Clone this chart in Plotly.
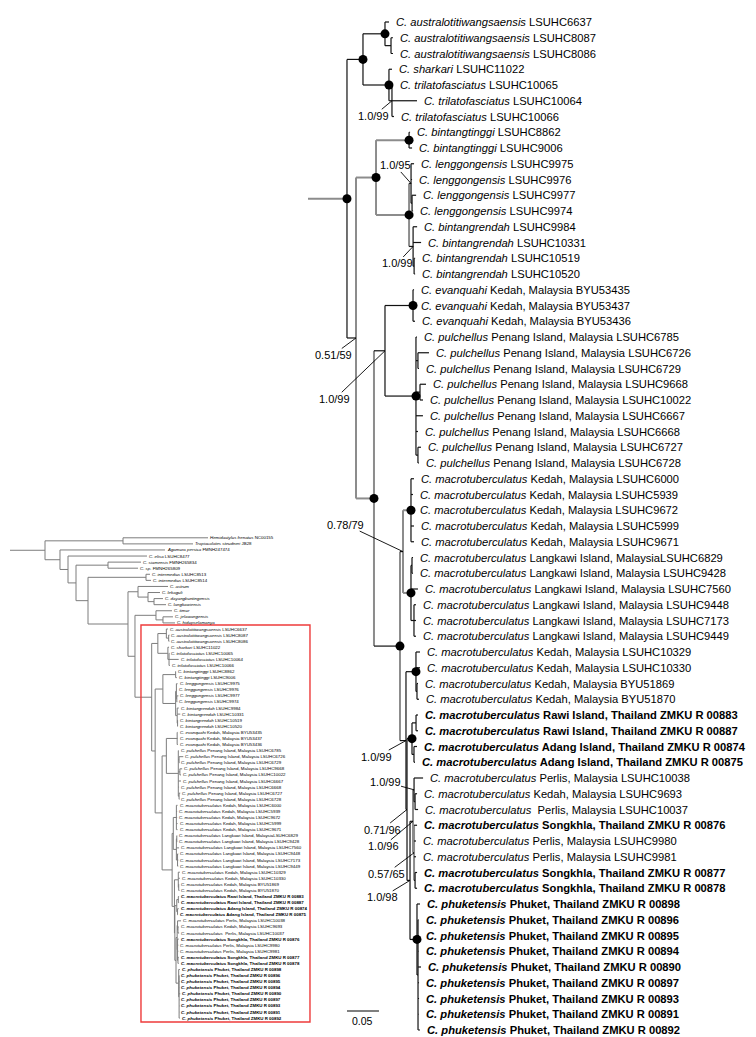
import plotly.graph_objects as go

# ---------------- data ----------------
# Ingroup tree (branch lengths in substitutions/site), internal nodes named
BIG_NEWICK = ("(((T01:0.0063,(T02:0.0031,T03:0.0031)AU2:0.0094)AU:0.0344,(T04:0.0047,(T05:0.0016,T06:0.0391,T07:0.0031)TR:0.0047)ST:0.0406)A:0.0250,"
              "(((T08:0.0016,T09:0.0047)BT:0.0516,((T10:0.0047,T11:0.0016,(T12:0.0063,T13:0.0016)LG2:0.0016)LG:0.0031,(T14:0.0063,T15:0.0125,(T16:0.0016,T17:0.0016)BR2:0.0016)BR:0.0063)LR:0.0516)C:0.0313,"
              "(((T18:0.0016,T19:0.0016,T20:0.0031)EV:0.0438,(T21:0.0016,(T22:0.0172,T23:0.0016)PU1:0.0031,(T24:0.0094,T25:0.0047)PU2:0.0063,T26:0.0109,T27:0.0031,(T28:0.0047,T29:0.0016)PU3:0.0031)PU:0.0484)E:0.0172,"
              "(((T30:0.0047,T31:0.0031,T32:0.0031,T33:0.0047,T34:0.0047)KD:0.0125,((T35:0.0016,T36:0.0016)LK1:0.0016,T37:0.0109,(T38:0.0031,T39:0.0031,T40:0.0031)LK2:0.0047)LK:0.0125)G:0.0047,"
              "((T41:0.0063,T42:0.0063,(T43:0.0016,T44:0.0031)K2:0.0016)K:0.0156,(((T45:0.0031,T46:0.0031)RW:0.0063,(T47:0.0047,T48:0.0016)AD:0.0031)RA:0.0078,"
              "(((T49:0.0141,(T50:0.0031,T51:0.0047)P1B:0.0016)P1:0.0016,(T52:0.0047,T53:0.0031,T54:0.0031,(T55:0.0031,T56:0.0031)SK:0.0016)N5:0.0016)N4:0.0047,"
              "(T57:0.0047,(T58:0.0008,T59:0.0016,T60:0.0008,T61:0.0047,T62:0.0016,T63:0.0016,T64:0.0008,T65:0.0031)PH2:0.0016)PH:0.0109)N3:0.0047)N2:0.0016)N1:0.0094)F:0.0406)D:0.0281)B:0.0141)ROOT:0.0609")

# Full tree with outgroups (inset); {ING} is the ingroup above
SMALL_NEWICK = ("((O00:0.3441,O01:0.2834)HT:0.3158,(O02:0.4251,(O03:0.3198,((O04:0.1336,O05:0.1215)SS:0.1296,((O06:0.0162,O07:0.0202)INT:0.2348,"
                "((O08:0.1215,(O09:0.0486,(O10:0.0364,O11:0.0486)AS3:0.0243)AS2:0.0405)AS:0.0405,((O12:0.0648,(O13:0.0405,O14:0.0486)TM2:0.0283)TM:0.0850,{ING}:0.0676)TI:0.0283)AT:0.1619)O6:0.0486)O5:0.0324)O4:0.0324)O3:0.0607)R0:0.1417")

TIP_SPECIES = (["australotitiwangsaensis"] * 3 + ["sharkari"] + ["trilatofasciatus"] * 3 + ["bintangtinggi"] * 2
               + ["lenggongensis"] * 4 + ["bintangrendah"] * 4 + ["evanquahi"] * 3 + ["pulchellus"] * 9
               + ["macrotuberculatus"] * 27 + ["phuketensis"] * 9)

TIP_DETAIL = [
    "LSUHC6637", "LSUHC8087", "LSUHC8086", "LSUHC11022", "LSUHC10065", "LSUHC10064", "LSUHC10066",
    "LSUHC8862", "LSUHC9006", "LSUHC9975", "LSUHC9976", "LSUHC9977", "LSUHC9974",
    "LSUHC9984", "LSUHC10331", "LSUHC10519", "LSUHC10520",
    "Kedah, Malaysia BYU53435", "Kedah, Malaysia BYU53437", "Kedah, Malaysia BYU53436",
    "Penang Island, Malaysia LSUHC6785", "Penang Island, Malaysia LSUHC6726", "Penang Island, Malaysia LSUHC6729",
    "Penang Island, Malaysia LSUHC9668", "Penang Island, Malaysia LSUHC10022", "Penang Island, Malaysia LSUHC6667",
    "Penang Island, Malaysia LSUHC6668", "Penang Island, Malaysia LSUHC6727", "Penang Island, Malaysia LSUHC6728",
    "Kedah, Malaysia LSUHC6000", "Kedah, Malaysia LSUHC5939", "Kedah, Malaysia LSUHC9672",
    "Kedah, Malaysia LSUHC5999", "Kedah, Malaysia LSUHC9671",
    "Langkawi Island, MalaysiaLSUHC6829", "Langkawi Island, Malaysia LSUHC9428", "Langkawi Island, Malaysia LSUHC7560",
    "Langkawi Island, Malaysia LSUHC9448", "Langkawi Island, Malaysia LSUHC7173", "Langkawi Island, Malaysia LSUHC9449",
    "Kedah, Malaysia LSUHC10329", "Kedah, Malaysia LSUHC10330", "Kedah, Malaysia BYU51869", "Kedah, Malaysia BYU51870",
    "Rawi Island, Thailand ZMKU R 00883", "Rawi Island, Thailand ZMKU R 00887",
    "Adang Island, Thailand ZMKU R 00874", "Adang Island, Thailand ZMKU R 00875",
    "Perlis, Malaysia LSUHC10038", "Kedah, Malaysia LSUHC9693", "\u00a0Perlis, Malaysia LSUHC10037",
    "Songkhla, Thailand ZMKU R 00876", "Perlis, Malaysia LSUHC9980", "Perlis, Malaysia LSUHC9981",
    "Songkhla, Thailand ZMKU R 00877", "Songkhla, Thailand ZMKU R 00878",
    "Phuket, Thailand ZMKU R 00898", "Phuket, Thailand ZMKU R 00896", "Phuket, Thailand ZMKU R 00895",
    "Phuket, Thailand ZMKU R 00894", "Phuket, Thailand ZMKU R 00890", "Phuket, Thailand ZMKU R 00897",
    "Phuket, Thailand ZMKU R 00893", "Phuket, Thailand ZMKU R 00891", "Phuket, Thailand ZMKU R 00892",
]

OUTGROUP_LABELS = [
    "<i>Hemidactylus frenatus</i> NC00155", "<i>Tropiocolotes steudneri</i> JB28", "<i>Agamura persica</i> FMNH247474",
    "<i>C. elisa</i> LSUHC8477", "<i>C. siamensis</i> FMNH265834", "<i>C. sp.</i> FMNH265809",
    "<i>C. intermedius</i> LSUHC8513", "<i>C. intermedius</i> LSUHC8514", "<i>C. astrum</i>",
    "<i>C. lekaguli</i>", "<i>C. dayangbuntingensis</i>", "<i>C. langkawiensis</i>",
    "<i>C. timur</i>", "<i>C. jelawangensis</i>", "<i>C. hidupselamanya</i>",
]

SUPPORT_NODES = ["TR", "LG", "BR", "B", "E", "G", "N1", "P1", "N2", "N4", "N5", "N3"]
SUPPORT_VALUES = ["1.0/99", "1.0/95", "1.0/99", "0.51/59", "1.0/99", "0.78/79",
                  "1.0/99", "1.0/99", "0.71/96", "1.0/96", "0.57/65", "1.0/98"]
CIRCLE_NODES = ["ROOT", "A", "AU", "ST", "C", "BT", "LR", "EV", "PU", "D", "KD", "LK", "F", "K", "RA", "PH"]
SCALE_BAR_LENGTH = 0.05

# ---------------- styles / layout ----------------
W, H = 756, 1037
FONT = "Liberation Sans, Arial, sans-serif"
BIG = dict(x0=300, ppu=640, t0=14, step=15.75, font=11.2, gap=8)
SMALL = dict(x0=2, ppu=247, t0=529.8, step=6.08, font=4.4, gap=3)
SUPPORT_OFFSETS_PX = [(-18, 15), (-16, -18), (-16, 17), (-23, 17), (-50, 48), (-57, -27),
                      (-29, 16), (-29, -8), (-25, 20), (-30, 25), (-28, 21), (-28, 17)]
GRAY_EDGES = {"ROOT", "C", "BT", "LR", "D", "KD", "LK"}
GRAY_VERTS = {"B", "C", "LR", "D", "F", "G", "N4", "N5"}
BLACK, GRAY, SMALL_GRAY = "#111111", "#8c8c8c", "#7d7d7d"


def parse_newick(s):
    s = s.strip().rstrip(";")
    pos = 0

    def node():
        nonlocal pos
        children = []
        if s[pos] == "(":
            pos += 1
            while True:
                children.append(node())
                if s[pos] == ",":
                    pos += 1
                    continue
                if s[pos] == ")":
                    pos += 1
                    break
        start = pos
        while pos < len(s) and s[pos] not in ":,();":
            pos += 1
        name = s[start:pos]
        bl = 0.0
        if pos < len(s) and s[pos] == ":":
            pos += 1
            start = pos
            while pos < len(s) and s[pos] not in ",();":
                pos += 1
            bl = float(s[start:pos])
        return {"name": name, "bl": bl, "children": children}

    return node()


def do_layout(node, parent_x, counter):
    node["px"] = parent_x
    node["x"] = parent_x + node["bl"]
    if node["children"]:
        for c in node["children"]:
            do_layout(c, node["x"], counter)
        node["y"] = (node["children"][0]["y"] + node["children"][-1]["y"]) / 2
    else:
        node["y"] = counter[0]
        counter[0] += 1


def walk(node):
    yield node
    for c in node["children"]:
        yield from walk(c)


def tip_label(i):
    s = f"<i>C. {TIP_SPECIES[i]}</i> {TIP_DETAIL[i]}"
    if "Thailand" in TIP_DETAIL[i]:
        s = f"<b>{s}</b>"
    return s


def label_for(name):
    if name.startswith("T"):
        return tip_label(int(name[1:]) - 1)
    return OUTGROUP_LABELS[int(name[1:])]


ingroup = BIG_NEWICK.rsplit(":", 1)[0]
big_tree = parse_newick(BIG_NEWICK)
small_tree = parse_newick(SMALL_NEWICK.replace("{ING}", ingroup))
do_layout(big_tree, 0.0, [0])
do_layout(small_tree, 0.0, [0])
big_nodes = {n["name"]: n for n in walk(big_tree)}
small_nodes = {n["name"]: n for n in walk(small_tree)}

fig = go.Figure()
annotations = []


def add_segments(tree, xa, ya, gray_edges, gray_verts, black_col, gray_col, bw, gw):
    segs = {"k": ([], []), "g": ([], [])}
    for n in walk(tree):
        key = "g" if n["name"] in gray_edges else "k"
        segs[key][0].extend([n["px"], n["x"], None])
        segs[key][1].extend([n["y"], n["y"], None])
        if n["children"]:
            key = "g" if n["name"] in gray_verts else "k"
            ys = [c["y"] for c in n["children"]]
            segs[key][0].extend([n["x"], n["x"], None])
            segs[key][1].extend([min(ys), max(ys), None])
    for key, col, w in (("g", gray_col, gw), ("k", black_col, bw)):
        if segs[key][0]:
            fig.add_trace(go.Scatter(x=segs[key][0], y=segs[key][1], mode="lines", xaxis=xa, yaxis=ya,
                                     line=dict(color=col, width=w), hoverinfo="skip", showlegend=False))


def add_tip_labels(tree, xref, yref, cfg):
    for n in walk(tree):
        if not n["children"]:
            annotations.append(dict(x=n["x"], y=n["y"], xref=xref, yref=yref, text=label_for(n["name"]),
                                    showarrow=False, xanchor="left", yanchor="middle",
                                    xshift=cfg["gap"] - 2, borderpad=0,
                                    font=dict(family=FONT, size=cfg["font"], color="black")))


# big tree
add_segments(big_tree, "x", "y", GRAY_EDGES, GRAY_VERTS, BLACK, GRAY, 1.2, 2.0)
add_tip_labels(big_tree, "x", "y", BIG)
fig.add_trace(go.Scatter(x=[big_nodes[k]["x"] for k in CIRCLE_NODES], y=[big_nodes[k]["y"] for k in CIRCLE_NODES],
                         mode="markers", marker=dict(size=9, color="black"), hoverinfo="skip", showlegend=False))
for name, val, (dx, dy) in zip(SUPPORT_NODES, SUPPORT_VALUES, SUPPORT_OFFSETS_PX):
    n = big_nodes[name]
    annotations.append(dict(x=n["x"], y=n["y"], xref="x", yref="y", text=val, showarrow=True,
                            arrowhead=0, arrowwidth=0.9, arrowcolor="black", ax=dx, ay=dy, standoff=0,
                            borderpad=0, font=dict(family=FONT, size=11, color="black")))

# scale bar
root = big_nodes["ROOT"]
sb_y = (1003 - BIG["t0"]) / BIG["step"]
fig.add_trace(go.Scatter(x=[root["x"], root["x"] + SCALE_BAR_LENGTH], y=[sb_y, sb_y], mode="lines",
                         line=dict(color="black", width=1.2), hoverinfo="skip", showlegend=False))
annotations.append(dict(x=root["x"] + SCALE_BAR_LENGTH / 2, y=(1013 - BIG["t0"]) / BIG["step"], xref="x", yref="y",
                        text=f"{SCALE_BAR_LENGTH:.2f}", showarrow=False, xanchor="center", yanchor="middle",
                        font=dict(family=FONT, size=10.5, color="black")))

# small inset tree
add_segments(small_tree, "x2", "y2", set(), set(), SMALL_GRAY, SMALL_GRAY, 1.0, 1.0)
add_tip_labels(small_tree, "x2", "y2", SMALL)

# red box around the ingroup in the inset
ing = small_nodes["ROOT"]
ing_tips = [n for n in walk(ing) if not n["children"]]
box_left = ing["x"] - 10.7 / SMALL["ppu"]
box_right = ing["x"] + 158.3 / SMALL["ppu"]
shapes = [dict(type="rect", xref="x2", yref="y2", x0=box_left, x1=box_right,
               y0=ing_tips[0]["y"] - 0.66, y1=ing_tips[-1]["y"] + 0.64,
               line=dict(color="#ee3b3b", width=1.4), fillcolor="rgba(0,0,0,0)")]


def axis_ranges(cfg):
    xr = [(0 - cfg["x0"]) / cfg["ppu"], (W - cfg["x0"]) / cfg["ppu"]]
    yr = [(H - cfg["t0"]) / cfg["step"], (0 - cfg["t0"]) / cfg["step"]]
    return xr, yr


bxr, byr = axis_ranges(BIG)
sxr, syr = axis_ranges(SMALL)
hidden = dict(visible=False, showgrid=False, zeroline=False, fixedrange=True)
fig.update_layout(
    width=W, height=H, margin=dict(l=0, r=0, t=0, b=0),
    paper_bgcolor="white", plot_bgcolor="rgba(0,0,0,0)",
    xaxis=dict(range=bxr, domain=[0, 1], anchor="y", **hidden),
    yaxis=dict(range=byr, domain=[0, 1], anchor="x", **hidden),
    xaxis2=dict(range=sxr, domain=[0, 1], anchor="y2", **hidden),
    yaxis2=dict(range=syr, domain=[0, 1], anchor="x2", **hidden),
    annotations=annotations, shapes=shapes, showlegend=False,
)
fig.write_html("out.html", config={"displayModeBar": False})
